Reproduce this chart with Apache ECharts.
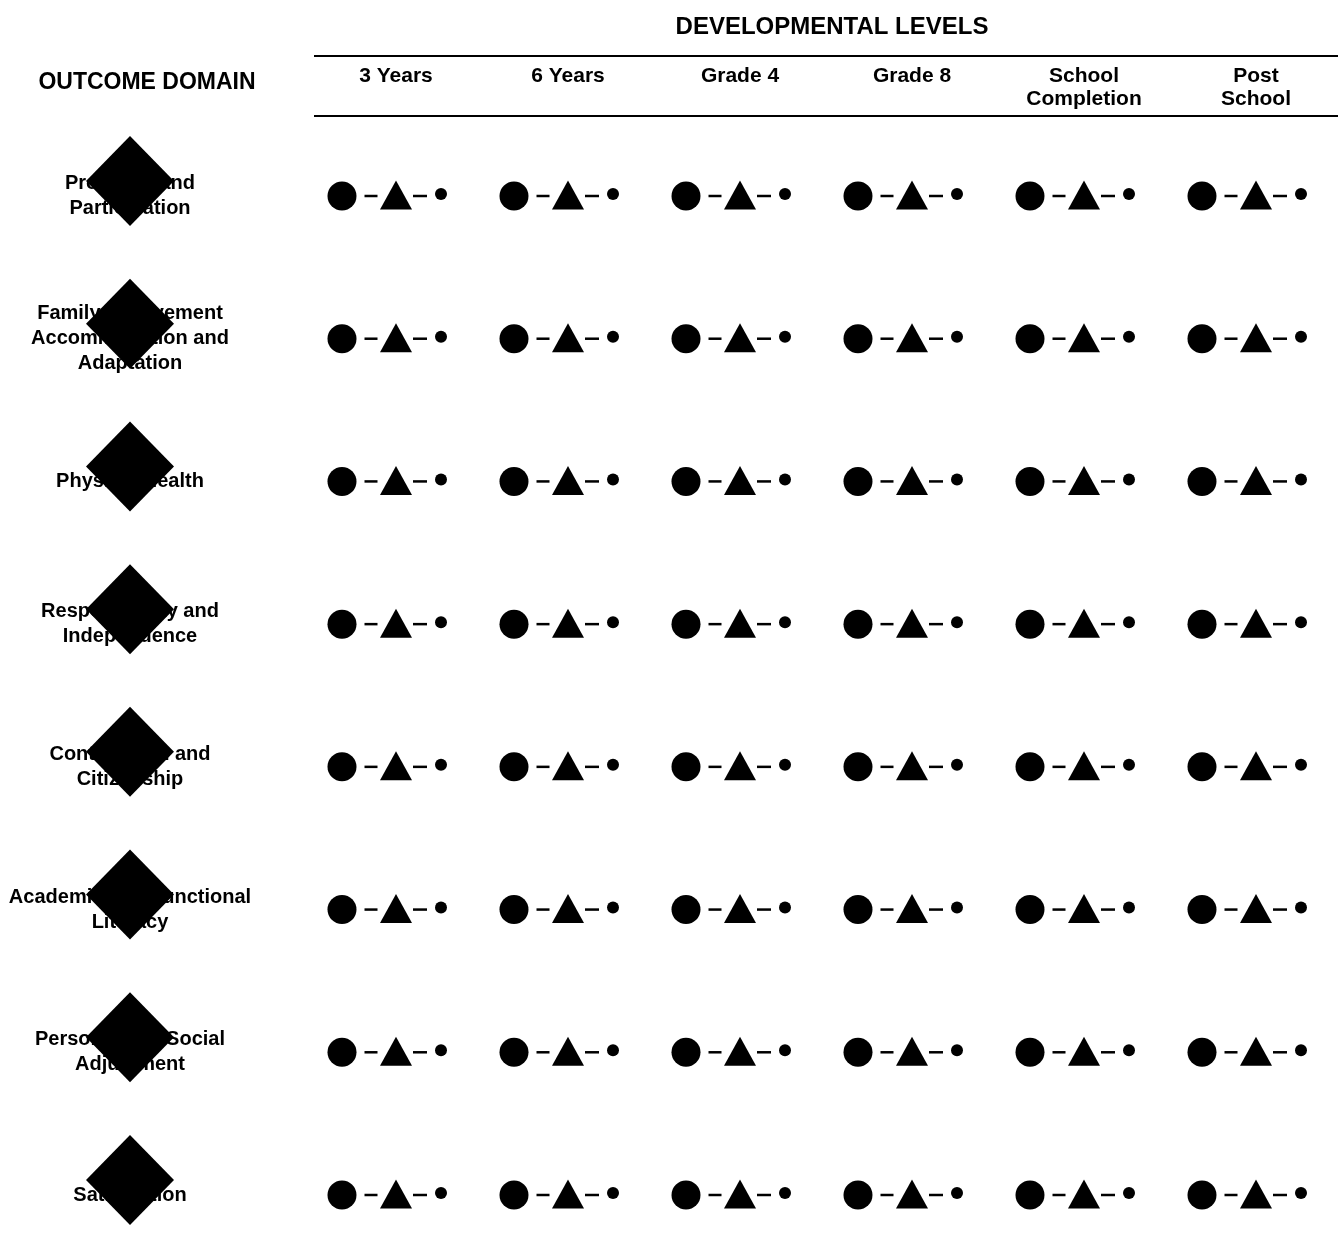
<!DOCTYPE html>
<html>
<head>
<meta charset="utf-8">
<script src="https://cdn.jsdelivr.net/npm/echarts@6/dist/echarts.min.js"></script>
<style>
html,body{margin:0;padding:0;background:#fff;}
#chart{width:1342px;height:1252px;}
</style>
</head>
<body>
<div id="chart"></div>
<script>
const levels = ['3 Years', '6 Years', 'Grade 4', 'Grade 8', 'School\nCompletion', 'Post\nSchool'];
const domains = [
  'Presence and\nParticipation',
  'Family Involvement\nAccommodation and\nAdaptation',
  'Physical Health',
  'Responsibility and\nIndependence',
  'Contribution and\nCitizenship',
  'Academic and Functional\nLiteracy',
  'Personal and Social\nAdjustment',
  'Satisfaction'
];
const title = 'DEVELOPMENTAL LEVELS';
const sideTitle = 'OUTCOME DOMAIN';

const FONT = '"Liberation Sans", Arial, Helvetica, sans-serif';
const cells = [];
for (let r = 0; r < domains.length; r++) {
  for (let c = 0; c < levels.length; c++) cells.push([c, r]);
}
const rowPts = domains.map((d, i) => [0, i]);

const chart = echarts.init(document.getElementById('chart'), null, {renderer: 'canvas'});
const markerSeries = (name, symbol, size, offset, z) => ({
  name, type: 'scatter', xAxisIndex: 0, yAxisIndex: 0,
  data: cells, symbol, symbolSize: size, symbolOffset: offset,
  itemStyle: {color: '#000', opacity: 1}, emphasis: {disabled: true},
  clip: false, silent: true, z
});
chart.setOption({
  animation: false,
  backgroundColor: '#fff',
  grid: [
    {left: 396, width: 860, top: 196, height: 999},
    {left: 0, width: 260, top: 196, height: 999}
  ],
  xAxis: [
    {
      type: 'value', min: 0, max: levels.length - 1, interval: 1, gridIndex: 0,
      position: 'top', offset: 131,
      axisLine: {show: false}, axisTick: {show: false}, splitLine: {show: false},
      axisLabel: {
        inside: true, margin: 0, verticalAlign: 'top',
        formatter: v => levels[v] || '',
        fontFamily: FONT, fontWeight: 'bold', fontSize: 21, color: '#000', lineHeight: 23
      }
    },
    {type: 'value', min: -1, max: 1, gridIndex: 1, show: false}
  ],
  yAxis: [
    {type: 'value', min: 0, max: domains.length - 1, inverse: true, gridIndex: 0, show: false},
    {type: 'value', min: 0, max: domains.length - 1, inverse: true, gridIndex: 1, show: false}
  ],
  title: [
    {text: title, left: 827, top: 10, textAlign: 'center',
     textStyle: {fontFamily: FONT, fontWeight: 'bold', fontSize: 24, color: '#000'}},
    {text: sideTitle, left: 142, top: 66, textAlign: 'center',
     textStyle: {fontFamily: FONT, fontWeight: 'bold', fontSize: 23, color: '#000'}}
  ],
  graphic: [
    {type: 'line', shape: {x1: 314, y1: 56, x2: 1338, y2: 56}, style: {stroke: '#000', lineWidth: 2}},
    {type: 'line', shape: {x1: 314, y1: 116, x2: 1338, y2: 116}, style: {stroke: '#000', lineWidth: 2}}
  ],
  series: [
    markerSeries('circle', 'circle', 29, [-54, 0], 3),
    markerSeries('dash1', 'rect', [13, 2.5], [-25, 0], 3),
    markerSeries('triangle', 'triangle', [32, 29], [0, -1], 3),
    markerSeries('dash2', 'rect', [14, 2.5], [24, 0], 3),
    markerSeries('dot', 'circle', 12, [45, -2], 3),
    {
      name: 'diamond', type: 'scatter', xAxisIndex: 1, yAxisIndex: 1,
      data: rowPts, symbol: 'diamond', symbolSize: [88, 90], symbolOffset: [0, -15],
      itemStyle: {color: '#000', opacity: 1}, emphasis: {disabled: true},
      clip: false, silent: true, z: 2
    },
    {
      name: 'domainLabel', type: 'scatter', xAxisIndex: 1, yAxisIndex: 1,
      data: rowPts, symbolSize: 1, itemStyle: {color: 'rgba(0,0,0,0)', opacity: 1},
      emphasis: {disabled: true}, clip: false, silent: true, z: 4,
      label: {
        show: true, position: 'inside', formatter: p => domains[p.dataIndex],
        fontFamily: FONT, fontWeight: 'bold', fontSize: 20, color: '#000', opacity: 1,
        lineHeight: 25, align: 'center', verticalAlign: 'middle'
      }
    }
  ]
});
</script>
</body>
</html>
